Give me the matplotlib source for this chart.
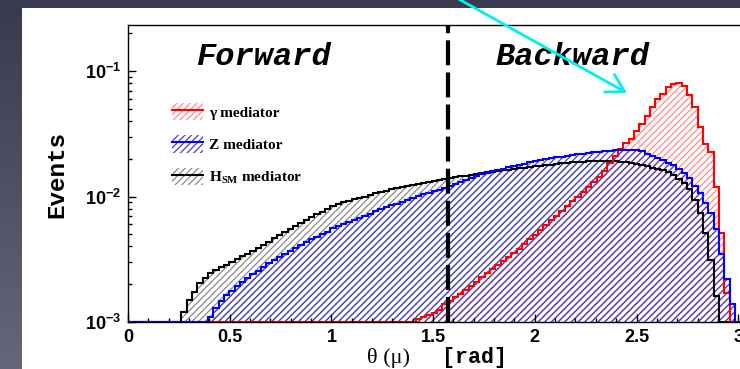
import numpy as np
import matplotlib
matplotlib.use("Agg")
import matplotlib.pyplot as plt
from matplotlib.patches import Patch, Rectangle
from matplotlib.lines import Line2D
from matplotlib.ticker import LogLocator, MultipleLocator, FuncFormatter, NullFormatter

plt.rcParams['font.family'] = 'Liberation Sans'
plt.rcParams['font.weight'] = 'bold'
plt.rcParams['hatch.linewidth'] = 0.9
plt.rcParams['mathtext.fontset'] = 'custom'
plt.rcParams['mathtext.rm'] = 'Liberation Serif:bold'
plt.rcParams['mathtext.bf'] = 'Liberation Sans:bold'

# 120 bins over [0, pi]; each series lists its non-empty bins from a first index
n_bins = 120

gamma_first = 54
gamma_vals = [0.00105, 0.00110, 0.00113, 0.00117, 0.00125, 0.00138, 0.00148, 0.00158,
              0.00168, 0.00179, 0.00193, 0.00210, 0.00228, 0.00245, 0.00265, 0.00285,
              0.00307, 0.00330, 0.00355, 0.00385, 0.00418, 0.00455, 0.00495, 0.00540,
              0.00590, 0.00645, 0.00705, 0.00770, 0.00840, 0.00915, 0.0100, 0.0109,
              0.0119, 0.0130, 0.0144, 0.0160, 0.0185, 0.0210, 0.0240, 0.0265,
              0.0290, 0.0330, 0.0380, 0.0440, 0.0520, 0.0600, 0.0660, 0.0740,
              0.0790, 0.0800, 0.0760, 0.0650, 0.0520, 0.0360, 0.0260, 0.0228,
              0.0119, 0.0051, 0.0017]

z_first = 15
z_vals = [0.00110, 0.00130, 0.00148, 0.00163, 0.00178, 0.00193, 0.00208, 0.00224,
          0.00240, 0.00257, 0.00275, 0.00293, 0.00311, 0.00330, 0.00350, 0.00370,
          0.00391, 0.00412, 0.00434, 0.00456, 0.00478, 0.00501, 0.00524, 0.00560,
          0.00580, 0.00602, 0.00624, 0.00647, 0.00672, 0.00700, 0.00730, 0.00760,
          0.00790, 0.00820, 0.00850, 0.00880, 0.00910, 0.00945, 0.00980, 0.0101,
          0.0104, 0.0107, 0.0110, 0.0113, 0.0116, 0.0121, 0.0126, 0.0131,
          0.0136, 0.0141, 0.0146, 0.0151, 0.0155, 0.0159, 0.0163, 0.0167,
          0.0171, 0.0175, 0.0179, 0.0183, 0.0187, 0.0191, 0.0195, 0.0199,
          0.0202, 0.0205, 0.0208, 0.0211, 0.0214, 0.0217, 0.0220, 0.0223,
          0.0226, 0.0228, 0.0230, 0.0232, 0.0234, 0.0236, 0.0237, 0.0237,
          0.0235, 0.0229, 0.0220, 0.0211, 0.0203, 0.0195, 0.0186, 0.0177,
          0.0166, 0.0153, 0.0140, 0.0122, 0.0106, 0.0089, 0.0074, 0.0055,
          0.0035, 0.0022, 0.0014]

h_first = 10
h_vals = [0.00121, 0.00150, 0.00174, 0.00204, 0.00224, 0.00246, 0.00260, 0.00272,
          0.00284, 0.00300, 0.00316, 0.00333, 0.00351, 0.00370, 0.00390, 0.00413,
          0.00438, 0.00464, 0.00492, 0.00521, 0.00552, 0.00585, 0.00620, 0.00652,
          0.00686, 0.00721, 0.00758, 0.00797, 0.0084, 0.0087, 0.0090, 0.0092,
          0.0095, 0.0098, 0.0100, 0.0103, 0.0106, 0.0109, 0.0111, 0.0114,
          0.0116, 0.0119, 0.0121, 0.0124, 0.0126, 0.0128, 0.0131, 0.0133,
          0.0135, 0.0138, 0.0140, 0.0142, 0.0145, 0.0147, 0.0149, 0.0151,
          0.0154, 0.0156, 0.0158, 0.0160, 0.0162, 0.0164, 0.0166, 0.0168,
          0.0170, 0.0172, 0.0174, 0.0176, 0.0178, 0.0180, 0.0182, 0.0184,
          0.0185, 0.0187, 0.0188, 0.0190, 0.0191, 0.0192, 0.0193, 0.0193,
          0.0193, 0.0192, 0.0190, 0.0188, 0.0185, 0.0182, 0.0178, 0.0174,
          0.0170, 0.0167, 0.0163, 0.0157, 0.0148, 0.0138, 0.0128, 0.0115,
          0.0094, 0.0074, 0.0051, 0.0031, 0.0016]

labels = [r"γ mediator", r"Z mediator", r"H$_{\mathrm{SM}}$ mediator"]

edges = np.linspace(0, np.pi, n_bins + 1)
floor = 1e-3


def full(first, vals):
    arr = np.full(n_bins, floor)
    arr[first:first + len(vals)] = vals
    return arr


fig = plt.figure(figsize=(7.4, 3.69), dpi=100)

# slide background + white panel
bg = fig.add_axes([0, 0, 1, 1], zorder=-5)
grad = np.linspace(0, 1, 100).reshape(-1, 1)
top_c = np.array([58, 58, 78]) / 255
bot_c = np.array([102, 102, 122]) / 255
bg.imshow(top_c + grad[..., None] * (bot_c - top_c), aspect='auto', extent=[0, 1, 0, 1], origin='upper')
bg.add_patch(Rectangle((22 / 740, 0), 1, 1 - 7.5 / 369, facecolor='white', edgecolor='none'))
bg.set_xlim(0, 1)
bg.set_ylim(0, 1)
bg.axis('off')

ax = fig.add_axes([128 / 740, 47 / 369, 639 / 740, 297 / 369])
ax.set_facecolor('none')

series = [
    (full(h_first, h_vals), 'black', '#8a8a8a', '/////'),
    (full(gamma_first, gamma_vals), 'red', '#ff8a8a', '/////'),
    (full(z_first, z_vals), 'blue', '#4a42c0', '/////'),
]
for vals, lc, hc, hatch in series:
    ax.stairs(vals, edges, baseline=floor, fill=True, facecolor='none',
              edgecolor=hc, hatch=hatch, lw=0)
for idx in [0, 1, 2]:
    vals, lc, hc, hatch = series[idx]
    ax.stairs(vals, edges, baseline=None, color=lc, lw=1.5)

ax.axvline(np.pi / 2, color='black', lw=3, ls=(0, (6, 1.7)))

ax.set_yscale('log')
ax.set_xlim(0, np.pi)
ax.set_ylim(1e-3, 0.233)
ax.xaxis.set_major_locator(MultipleLocator(0.5))
ax.xaxis.set_minor_locator(MultipleLocator(0.1))
ax.xaxis.set_major_formatter(FuncFormatter(lambda v, p: f"{v:g}"))
ax.yaxis.set_major_locator(LogLocator(base=10))
ax.yaxis.set_minor_locator(LogLocator(base=10, subs=np.arange(2, 10)))
ax.yaxis.set_minor_formatter(NullFormatter())
ax.yaxis.set_major_formatter(FuncFormatter(lambda v, p: r"$\mathbf{10^{%d}}$" % round(np.log10(v))))
ax.tick_params(which='both', direction='in', top=False, right=False, width=1, labelsize=13)
ax.tick_params(which='major', length=6, pad=5)
ax.tick_params(which='minor', length=3)
for s in ax.spines.values():
    s.set_linewidth(1)

ax.text(0.664, 0.129, "Forward", family='Liberation Mono', weight='bold', style='italic',
        fontsize=23, ha='center', va='center')
ax.text(2.187, 0.129, "Backward", family='Liberation Mono', weight='bold', style='italic',
        fontsize=23, ha='center', va='center')

handles = []
for idx in [1, 2, 0]:
    vals, lc, hc, hatch = series[idx]
    handles.append((Patch(facecolor='none', edgecolor=hc, hatch=hatch, lw=0),
                    Line2D([], [], color=lc, lw=1.5)))
ax.legend(handles, labels, loc='upper left', bbox_to_anchor=(172 / 740, 1 - 103 / 369),
          bbox_transform=fig.transFigure, frameon=False, borderpad=0, borderaxespad=0,
          handlelength=2.0, handleheight=1.35, labelspacing=1.0, handletextpad=0.45,
          prop={'family': 'Liberation Serif', 'weight': 'bold', 'size': 11})

fig.text(57 / 740, 1 - 174 / 369, "Events", family='Liberation Mono', weight='bold',
         fontsize=17.5, rotation=90, ha='center', va='center')
fig.text(389 / 740, 1 - 358 / 369, "θ (μ)", family='Liberation Serif', weight='normal',
         fontsize=16, ha='center', va='center')
fig.text(442 / 740, 1 - 358 / 369, "[rad]", family='Liberation Mono', weight='bold',
         fontsize=15.6, ha='left', va='center')

ax.annotate('', xy=(627, 369 - 93), xycoords='figure pixels',
            xytext=(455, 372), textcoords='figure pixels', annotation_clip=False,
            arrowprops=dict(arrowstyle='->,head_length=0.62,head_width=0.36', color='#00f0f0',
                            lw=2, mutation_scale=20, shrinkA=0, shrinkB=0), zorder=10)

fig.savefig("out.png", dpi=100)
